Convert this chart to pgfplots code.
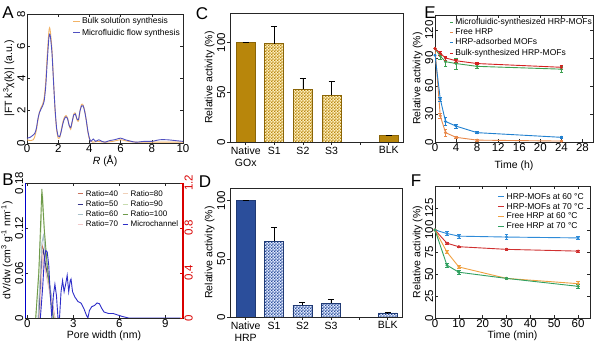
\documentclass[border=0pt]{standalone}
\usepackage{fontspec}
\setmainfont{Liberation Sans}
\usepackage{pgfplots}
\pgfplotsset{compat=1.18}
\usetikzlibrary{patterns}
\pgfdeclarepatternformonly{fchk}{\pgfpointorigin}{\pgfqpoint{3.2pt}{3.2pt}}{\pgfqpoint{3.2pt}{3.2pt}}{%
 \pgfpathrectangle{\pgfpointorigin}{\pgfqpoint{1.6pt}{1.6pt}}%
 \pgfpathrectangle{\pgfqpoint{1.6pt}{1.6pt}}{\pgfqpoint{1.6pt}{1.6pt}}%
 \pgfusepath{fill}}
\definecolor{aorange}{HTML}{F2B366}
\definecolor{ablue}{HTML}{5050C0}
\definecolor{gold}{HTML}{B8860B}
\definecolor{cream}{HTML}{FFF0C0}
\definecolor{dblue}{HTML}{2B4E9B}
\definecolor{lblue}{HTML}{E0EAFF}
\definecolor{rA}{HTML}{C8705A}
\definecolor{rB}{HTML}{34348A}
\definecolor{rC}{HTML}{A8C0C8}
\definecolor{rD}{HTML}{F0C8C8}
\definecolor{rE}{HTML}{F0D0B8}
\definecolor{rF}{HTML}{C8DCB0}
\definecolor{rG}{HTML}{6E9A4A}
\definecolor{rH}{HTML}{2D2DC8}
\definecolor{eg}{HTML}{3CA050}
\definecolor{eo}{HTML}{E8884A}
\definecolor{eb}{HTML}{2080D0}
\definecolor{er}{HTML}{D42020}
\definecolor{fb}{HTML}{2E8BD8}
\definecolor{fr}{HTML}{D03030}
\definecolor{fo}{HTML}{F0A040}
\definecolor{fg}{HTML}{30A060}
\pgfplotsset{panel/.style={scale only axis, anchor=south west,
  axis line style={line width=0.8pt, black!85},
  tick style={black!85, line width=0.6pt}, major tick length=3pt,
  tick label style={font=\fontsize{11.5}{12}\selectfont, inner sep=1.5pt},
  label style={font=\fontsize{10.5}{12}\selectfont, inner sep=1pt},
  /pgf/number format/assume math mode=true,
  yticklabel style={rotate=90, anchor=south},
  legend style={draw=none, fill=none, font=\fontsize{8.5}{9.5}\selectfont, inner sep=1pt},
  legend cell align=left,
  legend image code/.code={\draw[##1, line width=0.9pt] (0,0) -- (0.22cm,0);}},
  shortleg/.style={legend image code/.code={\draw[##1, line width=0.9pt] (0,0) -- (0.1cm,0);}},
  bleg/.style={legend image code/.code={\draw[##1, line width=0.9pt] (0,0) -- (0.2cm,0);}},
  sline/.style={line width=0.9pt, mark=*, mark size=1pt,
   error bars/y dir=both, error bars/y explicit,
   error bars/error bar style={line width=0.6pt},
   error bars/error mark options={rotate=90, mark size=1.8pt, line width=0.6pt}},
  bstyle/.style={ybar, bar shift=0pt, bar width=19pt, line width=0.7pt,
   error bars/y dir=plus, error bars/y explicit,
   error bars/error bar style={black, line width=0.7pt},
   error bars/error mark options={rotate=90, black, mark size=3pt, line width=0.7pt}}
}
\begin{document}
\begin{tikzpicture}
\path[use as bounding box] (0,0) rectangle (595pt,359pt);
% ---------------- A
\begin{axis}[panel, at={(27pt,216pt)}, width=156pt, height=129pt,
  xmin=0, xmax=10, ymin=0, ymax=8, xtick={0,2,...,10}, ytick={0,2,...,8},
  xlabel={\textit{R} (Å)}, ylabel={|FT k\textsuperscript{3}χ(k)| (a.u.)},
  legend style={at={(1,1)}, anchor=north east}]
\addplot[aorange, line width=0.9pt, smooth, tension=0.4] coordinates {(0,0.2)(0.2,0.15)(0.4,0.2)(0.5,0.4)(0.6,0.8)(0.7,1.4)(0.8,1.9)(0.9,2.2)(1.0,2.4)(1.1,2.8)(1.2,3.8)(1.3,5.5)(1.4,6.9)(1.45,7.15)(1.5,6.9)(1.6,5.8)(1.7,3.9)(1.8,2.0)(1.9,0.8)(2.0,0.3)(2.1,0.35)(2.2,0.8)(2.3,1.3)(2.4,1.6)(2.5,1.7)(2.6,1.55)(2.7,1.1)(2.8,0.85)(2.9,1.3)(3.0,1.8)(3.1,1.85)(3.2,1.45)(3.3,1.35)(3.4,2.0)(3.5,2.4)(3.6,2.35)(3.7,2.0)(3.8,1.4)(3.9,0.7)(4.0,0.25)(4.2,0.05)(4.5,0.1)(5.0,0.05)(5.5,0.1)(6.0,0.2)(6.5,0.1)(7,0.05)(8,0.05)(9,0.05)(10,0.05)};
\addlegendentry{Bulk solution synthesis}
\addplot[ablue, line width=0.9pt, smooth, tension=0.4] coordinates {(0,0.3)(0.2,0.35)(0.4,0.5)(0.5,0.6)(0.6,0.9)(0.7,1.5)(0.8,1.9)(0.9,2.1)(1.0,2.3)(1.1,2.6)(1.2,3.5)(1.3,5.1)(1.4,6.5)(1.45,6.75)(1.5,6.6)(1.6,5.6)(1.7,3.8)(1.8,2.1)(1.9,0.9)(2.0,0.42)(2.1,0.4)(2.2,0.75)(2.3,1.2)(2.4,1.5)(2.5,1.62)(2.6,1.5)(2.7,1.1)(2.8,0.95)(2.9,1.35)(3.0,1.75)(3.1,1.8)(3.2,1.5)(3.3,1.45)(3.4,2.0)(3.5,2.3)(3.6,2.3)(3.7,1.95)(3.8,1.4)(3.9,0.75)(4.0,0.3)(4.1,0.1)(4.25,0.25)(4.4,0.1)(4.6,0.2)(4.8,0.1)(5.0,0.05)(5.3,0.15)(5.6,0.2)(6.0,0.3)(6.3,0.2)(6.7,0.1)(7.0,0.05)(7.5,0.1)(8.0,0.1)(8.5,0.2)(9.0,0.2)(9.5,0.15)(10,0.1)};
\addlegendentry{Microfluidic flow synthesis}
\end{axis}
% ---------------- B
\begin{axis}[panel, bleg, at={(25pt,41pt)}, width=158pt, height=135pt,
  xmin=-0.15, xmax=10.15, ymin=0, ymax=0.18, xtick={0,3,6,9}, ytick={0,0.06,0.12,0.18},
  yticklabel style={/pgf/number format/.cd, fixed, precision=2},
  xlabel={Pore width (nm)}, ylabel={dV/dw (cm\textsuperscript{3} g\textsuperscript{-1} nm\textsuperscript{-1})},
  legend columns=2, legend style={at={(0.99,0.97)}, anchor=north east, font=\fontsize{8}{9}\selectfont, /tikz/every even column/.append style={column sep=2pt}, row sep=-1pt}]
\addplot[rA, line width=0.9pt] coordinates {(0.75,0)(0.9,0.07)(1.0,0.095)(1.1,0.085)(1.2,0.065)(1.3,0.06)(1.5,0.035)(1.8,0)};
\addlegendentry{Ratio=40}
\addplot[rE, line width=0.9pt] coordinates {(0.8,0)(1.0,0.09)(1.15,0.08)(1.35,0.05)(1.75,0)};
\addlegendentry{Ratio=80}
\addplot[rB, line width=0.9pt] coordinates {(0.75,0)(0.95,0.08)(1.05,0.09)(1.2,0.07)(1.4,0.05)(1.75,0)};
\addlegendentry{Ratio=50}
\addplot[rF, line width=0.9pt] coordinates {(0.55,0)(0.8,0.08)(1.0,0.165)(1.15,0.1)(1.4,0.05)(1.7,0)};
\addlegendentry{Ratio=90}
\addplot[rC, line width=0.9pt] coordinates {(0.7,0)(0.95,0.1)(1.05,0.11)(1.2,0.08)(1.5,0.04)(1.75,0)};
\addlegendentry{Ratio=60}
\addplot[rG, line width=0.9pt] coordinates {(0.55,0)(0.75,0.06)(0.95,0.172)(1.1,0.12)(1.3,0.07)(1.5,0.03)(1.7,0)};
\addlegendentry{Ratio=100}
\addplot[rD, line width=0.9pt] coordinates {(0.8,0)(1.0,0.085)(1.2,0.06)(1.4,0.04)(1.8,0)};
\addlegendentry{Ratio=70}
\addplot[rH, line width=0.9pt] coordinates {(0.85,0)(1.0,0.04)(1.1,0.075)(1.2,0.09)(1.3,0.088)(1.4,0.07)(1.5,0.03)(1.6,0.0)(1.7,0.03)(1.8,0.045)(1.9,0.03)(2.0,0.0)(2.1,0.0)(2.2,0.035)(2.3,0.05)(2.4,0.035)(2.5,0.045)(2.6,0.057)(2.7,0.035)(2.8,0.05)(2.85,0.052)(2.95,0.035)(3.1,0.028)(3.3,0.022)(3.5,0.02)(3.7,0.012)(3.85,0.004)(3.95,0.0)(4.05,0.01)(4.2,0.015)(4.4,0.017)(4.55,0.02)(4.7,0.019)(4.85,0.013)(5.0,0.008)(5.3,0.006)(5.6,0.006)(5.9,0.004)(6.2,0.002)(6.6,0.0)(10,0.0)};
\addlegendentry{Microchannel}
\draw[blue!80!black, line width=1.3pt] (rel axis cs:0,0) -- (rel axis cs:0,1);
\end{axis}
\begin{axis}[panel, at={(25pt,41pt)}, width=158pt, height=135pt,
  xmin=-0.15, xmax=10.15, ymin=0, ymax=1.2, ytick={0,0.4,0.8,1.2},
  axis y line*=right, axis x line=none,
  y axis line style={red!85!black, line width=1.3pt},
  ytick style={red!85!black},
  yticklabel style={anchor=north, red!85!black}]
\end{axis}
% ---------------- C
\begin{axis}[panel, at={(230pt,217pt)}, width=173pt, height=129pt,
  xmin=-0.55, xmax=5.5, ymin=0, ymax=130, ytick={0,50,100},
  xtick={0,1,2,3,4,5}, xticklabels={{Native\\GOx},S1,S2,S3,{},BLK},
  xticklabel style={align=center, font=\fontsize{10.5}{12}\selectfont},
  tick align=outside, xtick pos=bottom, ytick pos=left,
  ylabel={Relative activity (\%)}]
\addplot[bstyle, fill=gold, draw=gold!75!black] coordinates {(0,100) +- (0,0.5)};
\addplot[bstyle, fill=cream, draw=gold!75!black, postaction={pattern=fchk, pattern color=gold}] coordinates {(1,99) +- (0,18) (2,53) +- (0,11) (3,47) +- (0,14)};
\addplot[bstyle, fill=gold, draw=gold!75!black] coordinates {(5,6.5) +- (0,0.3)};
\end{axis}
% ---------------- D
\begin{axis}[panel, at={(230pt,42pt)}, width=172pt, height=129pt,
  xmin=-0.55, xmax=5.5, ymin=0, ymax=111, ytick={0,50,100},
  xtick={0,1,2,3,4,5}, xticklabels={{Native\\HRP},S1,S2,S3,{},BLK},
  xticklabel style={align=center, font=\fontsize{10.5}{12}\selectfont},
  tick align=outside, xtick pos=bottom, ytick pos=left,
  ylabel={Relative activity (\%)}]
\addplot[bstyle, fill=dblue, draw=dblue!75!black] coordinates {(0,100) +- (0,0.5)};
\addplot[bstyle, fill=lblue, draw=dblue!75!black, postaction={pattern=fchk, pattern color=dblue}] coordinates {(1,65) +- (0,12) (2,10) +- (0,3) (3,12) +- (0,3) (5,3.5) +- (0,0.2)};
\end{axis}
% ---------------- E
\begin{axis}[panel, shortleg, at={(435pt,217pt)}, width=158pt, height=127pt,
  xmin=0, xmax=30, ymin=0, ymax=136, xtick={0,4,...,28}, ytick={0,30,...,120},
  xlabel={Time (h)}, ylabel={Relative activity (\%)},
  xlabel style={yshift=-6pt},
  legend style={at={(0.085,1)}, anchor=north west, row sep=-1.2pt}]
\addplot[sline, eg, error bars/error bar style={eg}] coordinates {(0,100) (1,92) +- (0,3) (2,86) +- (0,5) (4,84) +- (0,6) (8,81) +- (0,2) (24,78) +- (0,3)};
\addlegendentry{Microfluidic-synthesized HRP-MOFs}
\addplot[sline, eo, error bars/error bar style={eo}] coordinates {(0,100) (1,28) +- (0,3) (2,10) +- (0,4) (4,5) +- (0,1) (8,2) +- (0,1) (24,1) +- (0,0.5)};
\addlegendentry{Free HRP}
\addplot[sline, eb, error bars/error bar style={eb}] coordinates {(0,93) (1,46) +- (0,2) (2,22) +- (0,4) (4,17) +- (0,2) (8,10) +- (0,1) (24,5) +- (0,1)};
\addlegendentry{HRP-adsorbed MOFs}
\addplot[sline, er, error bars/error bar style={er}] coordinates {(0,100) (1,95) +- (0,2) (2,90) +- (0,2) (4,87) +- (0,2) (8,84) +- (0,1) (24,80) +- (0,2)};
\addlegendentry{Bulk-synthesized HRP-MOFs}
\end{axis}
% ---------------- F
\begin{axis}[panel, at={(435pt,41pt)}, width=155pt, height=132pt,
  xmin=0, xmax=65, ymin=0, ymax=150, xtick={0,10,...,60}, ytick={0,25,...,125},
  xlabel={Time (min)}, ylabel={Relative activity (\%)},
  legend style={at={(0.98,0.97)}, anchor=north east, row sep=-1.5pt}]
\addplot[sline, fb, error bars/error bar style={fb}] coordinates {(0,100) (5,96) +- (0,2) (10,93) +- (0,2) (30,92) +- (0,3) (60,91) +- (0,2)};
\addlegendentry{HRP-MOFs at 60 °C}
\addplot[sline, fr, error bars/error bar style={fr}] coordinates {(0,100) (5,85) +- (0,1.5) (10,81) +- (0,1) (30,78) +- (0,1) (60,76) +- (0,1)};
\addlegendentry{HRP-MOFs at 70 °C}
\addplot[sline, fo, error bars/error bar style={fo}] coordinates {(0,100) (5,75) +- (0,2) (10,58) +- (0,2) (30,45) +- (0,1.5) (60,39) +- (0,3)};
\addlegendentry{Free HRP at 60 °C}
\addplot[sline, fg, error bars/error bar style={fg}] coordinates {(0,100) (5,60) +- (0,2) (10,52) +- (0,2) (30,45) +- (0,1.5) (60,36) +- (0,2)};
\addlegendentry{Free HRP at 70 °C}
\end{axis}
% panel letters
\node[font=\fontsize{17}{17}\selectfont] at (8pt,346.5pt) {A};
\node[font=\fontsize{17}{17}\selectfont] at (8pt,179pt) {B};
\node[font=\fontsize{17}{17}\selectfont] at (202pt,345pt) {C};
\node[font=\fontsize{17}{17}\selectfont] at (205pt,177pt) {D};
\node[font=\fontsize{17}{17}\selectfont] at (430pt,346pt) {E};
\node[font=\fontsize{17}{17}\selectfont] at (416pt,178pt) {F};
\end{tikzpicture}
\end{document}
